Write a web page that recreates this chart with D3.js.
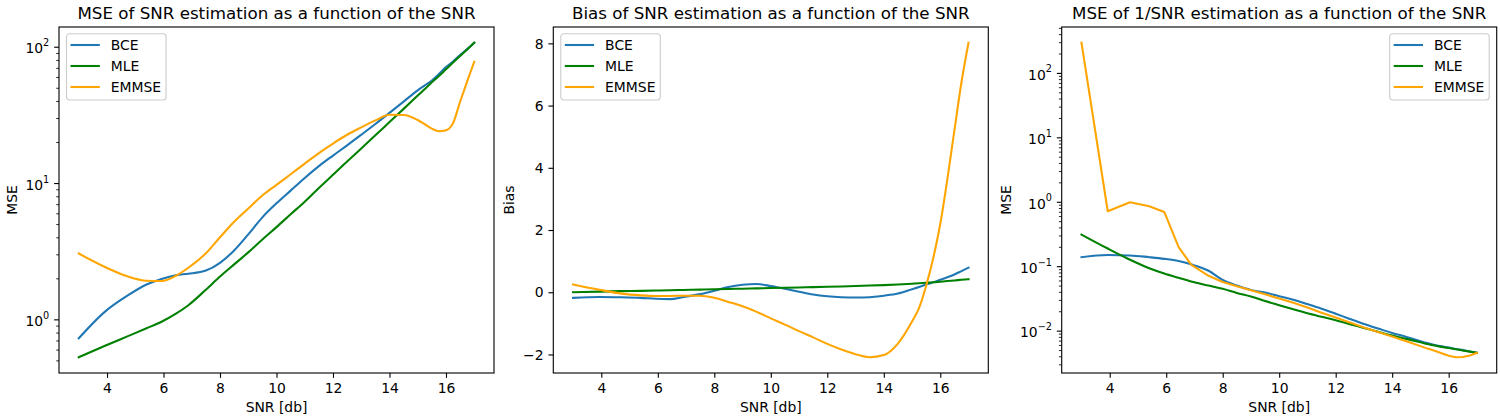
<!DOCTYPE html>
<html>
<head>
<meta charset="utf-8">
<script src="https://cdn.jsdelivr.net/npm/d3@7/dist/d3.min.js"></script>
<style>
  html, body { margin: 0; padding: 0; background: #ffffff; }
  svg { display: block; font-family: "DejaVu Sans", sans-serif; }
</style>
</head>
<body>
<svg id="chart" width="1500" height="420"></svg>
<script>
// ---------------- DATA ----------------
const seriesNames = ["BCE", "MLE", "EMMSE"];
const snrDb = [3, 3.93, 4.72, 5.4, 5.93, 6.44, 6.88, 7.5, 8, 8.5, 9, 9.5, 10, 10.5, 11, 11.5,
  12, 12.5, 13, 13.5, 14, 14.5, 15, 15.25, 15.5, 15.75, 16, 16.25, 16.5, 16.75, 17];

// Panel 1: MSE of SNR estimation
const mseBCE = [0.726, 1.14, 1.49, 1.80, 1.98, 2.11, 2.16, 2.28, 2.6, 3.2, 4.2, 5.6, 7.1, 8.8, 10.9, 13.3,
  15.9, 18.9, 22.6, 27.1, 32.7, 39.6, 47.9, 52, 56.5, 63, 71, 78, 87, 96, 107];
const mseMLE = [0.527, 0.64, 0.75, 0.86, 0.96, 1.10, 1.27, 1.65, 2.06, 2.53, 3.1, 3.85, 4.75, 5.9, 7.3, 9.2,
  11.5, 14.4, 17.9, 22.4, 28.0, 35.0, 43.8, 49.0, 54.8, 61.0, 68.3, 76.5, 85.5, 95.5, 107];
const mseEMMSE = [3.04, 2.42, 2.07, 1.92, 1.91, 2.09, 2.39, 3.05, 4.0, 5.2, 6.5, 8.1, 9.7, 11.6, 13.9, 16.6,
  19.5, 22.6, 25.6, 28.8, 31.7, 31.6, 29.0, 27.0, 25.1, 24.0, 24.4, 27.5, 39.5, 55.7, 77.6];

// Panel 2: Bias of SNR estimation
const biasBCE = [-0.18, -0.15, -0.16, -0.18, -0.21, -0.22, -0.16, -0.06, 0.05, 0.17, 0.24, 0.265, 0.2, 0.11, 0.015, -0.075,
  -0.13, -0.16, -0.17, -0.16, -0.11, -0.04, 0.1, 0.17, 0.25, 0.32, 0.40, 0.48, 0.57, 0.68, 0.79];
const biasMLE = [0.0, 0.02, 0.035, 0.045, 0.055, 0.065, 0.075, 0.085, 0.095, 0.105, 0.115, 0.125, 0.135, 0.145, 0.155, 0.165,
  0.175, 0.185, 0.2, 0.215, 0.23, 0.25, 0.275, 0.29, 0.305, 0.32, 0.34, 0.36, 0.38, 0.40, 0.42];
const biasEMMSE = [0.25, 0.08, -0.045, -0.1, -0.12, -0.12, -0.11, -0.11, -0.18, -0.31, -0.45, -0.63, -0.84, -1.04, -1.25, -1.45,
  -1.66, -1.84, -1.99, -2.09, -2.02, -1.65, -0.94, -0.5, 0.21, 1.09, 2.2, 3.63, 5.2, 6.75, 8.02];

// Panel 3: MSE of 1/SNR estimation
const invBCE = [0.138, 0.149, 0.147, 0.138, 0.130, 0.120, 0.107, 0.085, 0.061, 0.050, 0.0427, 0.039, 0.0342, 0.0302, 0.0258, 0.0219,
  0.0183, 0.0152, 0.0127, 0.0108, 0.0092, 0.0080, 0.00687, 0.0064, 0.0060, 0.0057, 0.00548, 0.0052, 0.00498, 0.00475, 0.00452];
const invMLE = [0.31, 0.188, 0.126, 0.093, 0.077, 0.066, 0.058, 0.050, 0.0445, 0.0385, 0.0339, 0.0288, 0.0248, 0.0214, 0.0186, 0.0164,
  0.0145, 0.0126, 0.011, 0.0096, 0.0084, 0.00745, 0.0066, 0.0062, 0.00586, 0.0056, 0.00537, 0.00515, 0.00493, 0.00472, 0.00452];
const invEMMSE = [294, 0.713, 0.98, 0.85, 0.695, 0.198, 0.106, 0.071, 0.0569, 0.0488, 0.0424, 0.0366, 0.0314, 0.027, 0.0228, 0.019,
  0.016, 0.0134, 0.0112, 0.00955, 0.0081, 0.00686, 0.00575, 0.00526, 0.00486, 0.00447, 0.00407, 0.00386, 0.00389, 0.00412, 0.00452];

const xTicks = [4, 6, 8, 10, 12, 14, 16];
const biasTicks = [-2, 0, 2, 4, 6, 8];
const titles = ["MSE of SNR estimation as a function of the SNR",
                "Bias of SNR estimation as a function of the SNR",
                "MSE of 1/SNR estimation as a function of the SNR"];
const xLabel = "SNR [db]";
const yLabels = ["MSE", "Bias", "MSE"];

// ---------------- STYLE / LAYOUT ----------------
const colors = ["#1f77b4", "#008000", "#ffa500"];
const FS = 13.9;          // 10pt
const TITLE_FS = 16.7;    // 12pt
const TOP = 27, BOTTOM = 373;
const panels = [
  { left: 59,     right: 494,    data: [mseBCE, mseMLE, mseEMMSE],    log: true,  legend: "left",  linearLast: false },
  { left: 553.3,  right: 988.3,  data: [biasBCE, biasMLE, biasEMMSE], log: false, legend: "left",  linearLast: false },
  { left: 1061.7, right: 1496.7, data: [invBCE, invMLE, invEMMSE],    log: true,  legend: "right", linearLast: true }
];

const svg = d3.select("#chart");
svg.append("rect").attr("width", 1500).attr("height", 420).attr("fill", "#fff");

panels.forEach((p, pi) => {
  const g = svg.append("g");
  const xExt = d3.extent(snrDb);
  const xPad = (xExt[1] - xExt[0]) * 0.05;
  const x = d3.scaleLinear().domain([xExt[0] - xPad, xExt[1] + xPad]).range([p.left, p.right]);

  const allVals = p.data.flat();
  let y;
  if (p.log) {
    const lo = Math.log10(d3.min(allVals)), hi = Math.log10(d3.max(allVals));
    const pad = (hi - lo) * 0.05;
    y = d3.scaleLog().domain([Math.pow(10, lo - pad), Math.pow(10, hi + pad)]).range([BOTTOM, TOP]);
  } else {
    const lo = d3.min(allVals), hi = d3.max(allVals);
    const pad = (hi - lo) * 0.05;
    y = d3.scaleLinear().domain([lo - pad, hi + pad]).range([BOTTOM, TOP]);
  }

  // clip
  const clipId = "clip" + pi;
  svg.append("clipPath").attr("id", clipId).append("rect")
    .attr("x", p.left).attr("y", TOP).attr("width", p.right - p.left).attr("height", BOTTOM - TOP);

  // lines
  p.data.forEach((vals, si) => {
    const pts = snrDb.map((s, i) => [s, vals[i]]);
    const curve = (p.linearLast && si === 2) ? d3.curveLinear : d3.curveMonotoneX;
    g.append("path")
      .attr("clip-path", `url(#${clipId})`)
      .attr("d", d3.line().x(d => x(d[0])).y(d => y(d[1])).curve(curve)(pts))
      .attr("fill", "none")
      .attr("stroke", colors[si])
      .attr("stroke-width", 2.08)
      .attr("stroke-linejoin", "round")
      .attr("stroke-linecap", "square");
  });

  // x axis
  const xa = g.append("g").attr("transform", `translate(0,${BOTTOM})`)
    .call(d3.axisBottom(x).tickValues(xTicks).tickSize(4.86).tickPadding(5.6).tickFormat(d3.format("d")));
  xa.select(".domain").remove();
  xa.selectAll("line").attr("stroke", "#000").attr("stroke-width", 1.11);
  xa.selectAll("text").attr("font-size", FS).attr("font-family", "DejaVu Sans").attr("fill", "#000");

  // y axis
  const yg = g.append("g").attr("transform", `translate(${p.left},0)`);
  if (p.log) {
    const [d0, d1] = y.domain();
    const e0 = Math.floor(Math.log10(d0)), e1 = Math.ceil(Math.log10(d1));
    const majors = [], minors = [];
    for (let e = e0; e <= e1; e++) {
      const m = Math.pow(10, e);
      if (m >= d0 && m <= d1) majors.push(m);
      for (let k = 2; k <= 9; k++) {
        const v = k * Math.pow(10, e);
        if (v >= d0 && v <= d1) minors.push(v);
      }
    }
    const ymin = yg.append("g").call(d3.axisLeft(y).tickValues(minors).tickSize(2.78).tickFormat(""));
    ymin.select(".domain").remove();
    ymin.selectAll("line").attr("stroke", "#000").attr("stroke-width", 0.83);
    const ymaj = yg.append("g").call(d3.axisLeft(y).tickValues(majors).tickSize(4.86).tickPadding(4.86).tickFormat(""));
    ymaj.select(".domain").remove();
    ymaj.selectAll("line").attr("stroke", "#000").attr("stroke-width", 1.11);
    ymaj.selectAll("text").each(function(d) {
      const t = d3.select(this);
      const ex = Math.round(Math.log10(d));
      t.text(null).attr("font-size", FS).attr("font-family", "DejaVu Sans").attr("fill", "#000").attr("dy", "0.45em");
      t.append("tspan").text("10");
      t.append("tspan").attr("font-size", 9.7).attr("dy", -7.2)
        .text(String(ex).replace("-", "\u2212"));
    });
  } else {
    const ya = yg.call(d3.axisLeft(y).tickValues(biasTicks).tickSize(4.86).tickPadding(4.86).tickFormat(d3.format("d")));
    ya.select(".domain").remove();
    ya.selectAll("line").attr("stroke", "#000").attr("stroke-width", 1.11);
    ya.selectAll("text").attr("font-size", FS).attr("font-family", "DejaVu Sans").attr("fill", "#000").attr("dy", "0.34em");
  }

  // spines
  g.append("rect")
    .attr("x", p.left).attr("y", TOP).attr("width", p.right - p.left).attr("height", BOTTOM - TOP)
    .attr("fill", "none").attr("stroke", "#000").attr("stroke-width", 1.11);

  // title
  g.append("text")
    .attr("x", (p.left + p.right) / 2).attr("y", 18.5)
    .attr("text-anchor", "middle").attr("font-size", TITLE_FS).attr("fill", "#000")
    .text(titles[pi]);

  // x label
  g.append("text")
    .attr("x", (p.left + p.right) / 2).attr("y", BOTTOM + 39)
    .attr("text-anchor", "middle").attr("font-size", FS).attr("fill", "#000")
    .text(xLabel);

  // y label, positioned left of tick labels (bbox is in the axis group's local coords)
  const bb = yg.node().getBBox();
  const lx = p.left + bb.x - 5.6 - 3.0;
  g.append("text")
    .attr("transform", `translate(${lx},${(TOP + BOTTOM) / 2}) rotate(-90)`)
    .attr("text-anchor", "middle").attr("font-size", FS).attr("fill", "#000")
    .text(yLabels[pi]);

  // legend
  const LW = 99.5, LH = 66.3;
  const lx0 = p.legend === "left" ? p.left + 7.5 : p.right - 7.5 - LW;
  const ly0 = TOP + 6.7;
  const lg = g.append("g").attr("transform", `translate(${lx0},${ly0})`);
  lg.append("rect").attr("width", LW).attr("height", LH).attr("rx", 3).attr("ry", 3)
    .attr("fill", "#fff").attr("fill-opacity", 0.8)
    .attr("stroke", "#cccccc").attr("stroke-width", 1.11);
  seriesNames.forEach((name, si) => {
    const ry = 11.3 + si * 21;
    lg.append("line").attr("x1", 4).attr("x2", 33.3).attr("y1", ry).attr("y2", ry)
      .attr("stroke", colors[si]).attr("stroke-width", 2.08);
    lg.append("text").attr("x", 44.3).attr("y", ry + 5)
      .attr("font-size", FS).attr("fill", "#000").text(name);
  });
});
</script>
</body>
</html>
